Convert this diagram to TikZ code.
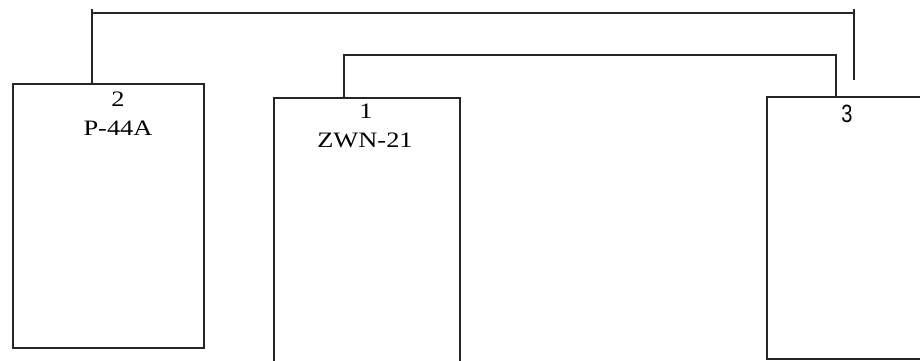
\documentclass[tikz,border=0pt]{standalone}
\usepackage{fontspec}
\setmainfont{Liberation Serif}
\newfontfamily\sansf{Liberation Sans}
\begin{document}
\begin{tikzpicture}[x=1pt,y=-1pt,
  box/.style={draw=black!85,line width=1.6pt,inner sep=0pt,anchor=north west},
  wire/.style={draw=black!85,line width=1.6pt},
  lbl/.style={font=\fontsize{22}{22}\selectfont,inner sep=0pt,xscale=1.2,anchor=base},
  lbls/.style={font=\sansf\fontsize{25}{25}\selectfont,inner sep=0pt,xscale=0.8,anchor=base}]
\clip (0,0) rectangle (920,360);
\fill[white] (0,0) rectangle (920,360);
% boxes
\node[box,minimum width=191pt,minimum height=264pt] (b2) at (12,83) {};
\node[box,minimum width=186pt,minimum height=290pt] (b1) at (273,97) {};
\node[box,minimum width=170pt,minimum height=262pt] (b3) at (766,96) {};
% labels
\node[lbl] (t2) at (118,106) {2};
\node[lbl] (n2) at (118,135) {P-44A};
\node[lbl] (t1) at (366,118) {1};
\node[lbl] (n1) at (365,147) {ZWN-21};
\node[lbls] (t3) at (847,122) {3};
% connectors
\coordinate (o1) at (92,13);
\coordinate (o2) at (854,13);
\coordinate (oe) at (854,80);
\coordinate (i1) at (344,55);
\coordinate (i2) at (836,55);
\draw[wire] ([xshift=80pt]b2.north west) -- (o1) -- (o2) -- (oe);
\draw[wire] (o1) -- ++(0,-4);
\draw[wire] (o2) -- ++(0,-4);
\draw[wire] ([xshift=71pt]b1.north west) -- (i1) -- (i2) -- ([xshift=70pt]b3.north west);
\end{tikzpicture}
\end{document}
